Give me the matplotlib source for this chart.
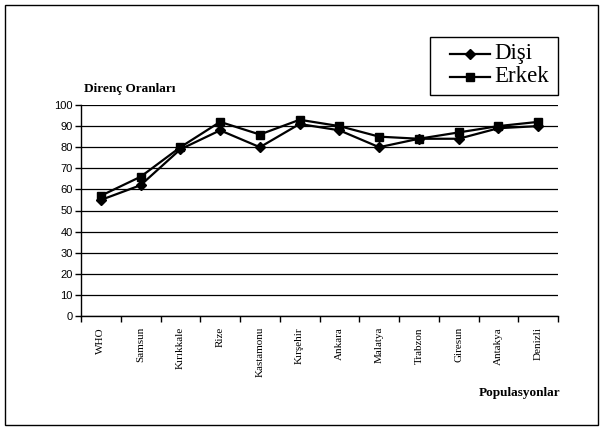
import matplotlib
matplotlib.use("Agg")
import matplotlib.pyplot as plt
from matplotlib.patches import Rectangle
from matplotlib.lines import Line2D

populations = ["WHO", "Samsun", "Kırıkkale", "Rize", "Kastamonu", "Kırşehir",
               "Ankara", "Malatya", "Trabzon", "Giresun", "Antakya", "Denizli"]
disi = [55, 62, 79, 88, 80, 91, 88, 80, 84, 84, 89, 90]
erkek = [57, 66, 80, 92, 86, 93, 90, 85, 84, 87, 90, 92]
y_ticks = list(range(0, 101, 10))
series_names = ["Dişi", "Erkek"]

W, H = 607, 430
fig = plt.figure(figsize=(W / 100, H / 100), dpi=100)
fig.patch.set_facecolor("white")


def fx(px):
    return px / W


def fy(py):
    return 1 - py / H


# outer frame
fig.add_artist(Rectangle((fx(5), fy(425)), 593 / W, 420 / H, transform=fig.transFigure,
                         fill=False, edgecolor="black", linewidth=1.0))

ax = fig.add_axes([fx(81), fy(316), 477 / W, 211 / H])
x = [i + 0.5 for i in range(len(populations))]
ax.plot(x, disi, color="black", linewidth=1.6, marker="D", markersize=5.5)
ax.plot(x, erkek, color="black", linewidth=1.6, marker="s", markersize=6)

ax.set_xlim(0, len(populations))
ax.set_ylim(0, 100)
ax.set_yticks(y_ticks)
ax.set_yticklabels([str(v) for v in y_ticks], fontsize=8, family="Liberation Sans")
ax.yaxis.grid(True, color="black", linewidth=0.9)
ax.set_axisbelow(True)

ax.set_xticks(range(len(populations) + 1))
ax.set_xticklabels([])
ax.set_xticks(x, minor=True)
ax.set_xticklabels(populations, minor=True, rotation=90, fontsize=8,
                   family="Liberation Serif", va="top")
ax.tick_params(axis="x", which="minor", length=0, pad=8)
ax.tick_params(axis="x", which="major", length=4, direction="out", width=1)
ax.tick_params(axis="y", length=4, direction="out", width=1, pad=2)

for s in ["top", "right"]:
    ax.spines[s].set_visible(False)
for s in ["left", "bottom"]:
    ax.spines[s].set_linewidth(1.0)
    ax.spines[s].set_color("black")

fig.text(fx(84), fy(89), "Direnç Oranları", fontsize=9.5, fontweight="bold",
         family="Liberation Serif", ha="left", va="center")
fig.text(fx(560), fy(393), "Populasyonlar", fontsize=9.5, fontweight="bold",
         family="Liberation Serif", ha="right", va="center")

# legend box
fig.add_artist(Rectangle((fx(430), fy(95)), 128 / W, 58 / H, transform=fig.transFigure,
                         fill=True, facecolor="white", edgecolor="black", linewidth=1.0))
for name, marker, ms, ypx in zip(series_names, ["D", "s"], [5.5, 6], [54, 77]):
    fig.add_artist(Line2D([fx(450), fx(490)], [fy(ypx), fy(ypx)], transform=fig.transFigure,
                          color="black", linewidth=1.6))
    fig.add_artist(Line2D([fx(470)], [fy(ypx)], transform=fig.transFigure,
                          color="black", marker=marker, markersize=ms))
    fig.text(fx(494), fy(ypx), name, fontsize=16.5, family="Liberation Serif",
             ha="left", va="center")

fig.savefig("out.png", dpi=100, facecolor="white")
